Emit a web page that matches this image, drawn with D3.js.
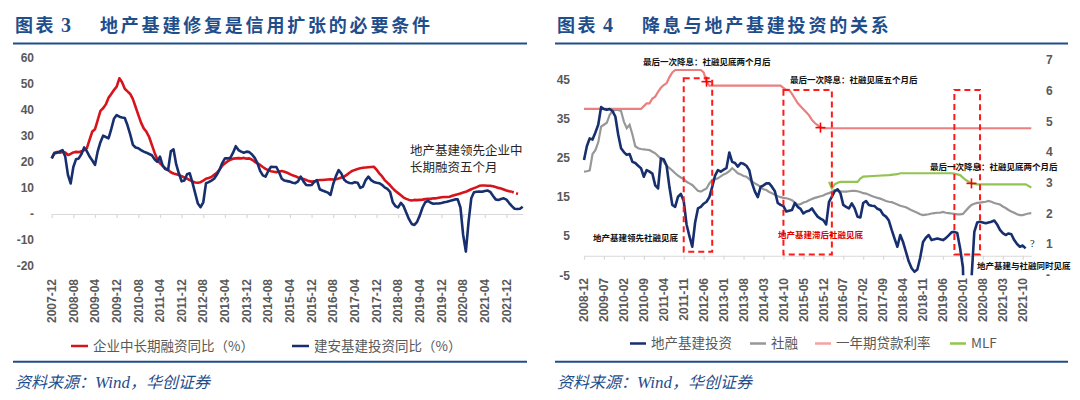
<!DOCTYPE html>
<html>
<head>
<meta charset="utf-8">
<script src="https://cdn.jsdelivr.net/npm/d3@7"></script>
<style>
  body { margin: 0; background: #fff; }
  svg { display: block; font-family: "Noto Sans CJK SC", "Noto Sans", sans-serif; }
</style>
</head>
<body>
<svg id="chart" width="1080" height="400"></svg>
<script>
// ---------- data: chart 3 (monthly, 2007-12 .. 2022-06) ----------
const leftTicks = ["2007-12","2008-08","2009-04","2009-12","2010-08","2011-04","2011-12","2012-08",
  "2013-04","2013-12","2014-08","2015-04","2015-12","2016-08","2017-04","2017-12","2018-08",
  "2019-04","2019-12","2020-08","2021-04","2021-12"];
const leftYTicks = [60, 50, 40, 30, 20, 10, 0, -10, -20];

// 企业中长期融资同比 (%), 2007-12 .. 2022-05, dotted from 2022-02
const corpLoan = [
  21.3,23.5,23.8,23.5,23.8,23.6,22.6,23.0,23.6,23.8,
  23.7,24.0,24.5,25.2,28.5,31.6,32.5,36.0,39.5,40.5,
  42.0,44.5,46.0,47.5,48.8,52.0,50.5,48.0,47.0,46.0,
  44.0,41.0,38.0,35.0,32.8,31.5,29.5,26.5,23.5,21.0,
  19.4,18.5,17.5,16.8,16.0,15.5,15.2,14.9,14.5,14.0,
  13.6,13.0,12.5,12.1,12.0,12.2,12.8,13.5,13.8,14.2,
  15.0,15.8,17.0,18.5,19.4,20.2,20.8,21.2,21.3,21.4,
  21.3,21.5,21.2,21.3,20.8,20.0,19.4,18.8,18.0,17.3,
  16.8,16.4,16.2,16.0,16.3,16.5,16.2,15.8,15.3,14.8,
  14.5,14.0,13.7,13.4,13.0,12.6,12.4,12.5,12.8,13.0,
  13.0,13.1,13.2,13.3,13.2,13.3,13.6,14.0,14.3,15.0,
  15.8,16.5,16.9,17.2,17.5,17.7,17.8,17.9,18.0,18.1,
  17.0,15.6,14.5,13.0,12.0,11.0,9.8,8.8,8.0,7.2,
  6.3,5.8,5.4,5.2,5.4,5.3,5.4,5.5,5.7,5.8,
  5.8,6.0,6.0,6.2,6.4,6.5,6.5,6.6,7.0,7.3,
  7.6,7.9,8.2,8.5,9.0,9.5,9.9,10.3,10.8,10.9,
  10.9,10.8,10.8,10.6,10.3,10.0,9.8,9.4,9.0,8.7,
  8.5,8.1,7.8,7.5
];
const corpLoanDottedFrom = "2022-02";

// 建安基建投资同比 (%), 2007-12 .. 2022-06
const infraInvest = [
  21.3,23.2,23.5,24.0,24.5,22.0,15.0,11.7,18.0,21.0,
  21.3,23.0,25.5,24.0,22.0,20.5,18.8,24.0,27.5,30.0,
  29.5,29.0,32.5,36.5,37.9,37.3,37.0,36.8,34.0,30.5,
  26.5,25.5,25.2,24.5,23.9,23.5,23.0,22.5,21.0,20.0,
  22.0,18.5,17.2,16.9,24.0,24.8,19.0,15.5,12.5,12.8,
  15.2,15.6,12.0,8.0,4.0,2.6,4.5,11.8,12.2,12.8,
  13.5,15.0,17.0,19.5,21.3,21.3,21.5,23.5,26.0,24.5,
  23.9,23.5,23.9,23.7,22.8,21.5,19.5,16.5,14.8,14.3,
  16.5,18.1,18.0,18.0,16.0,13.5,12.8,12.6,12.4,12.0,
  11.8,12.5,14.3,12.5,11.1,11.0,11.1,12.3,13.0,9.5,
  9.0,8.6,8.2,7.3,11.5,14.5,16.8,15.5,13.2,12.3,
  11.9,11.8,12.2,12.0,10.0,10.5,13.0,14.3,13.0,12.3,
  12.0,11.8,11.2,10.2,9.6,8.5,4.5,3.0,2.5,4.3,
  3.0,0.5,-2.0,-3.8,-4.2,-3.0,-0.5,2.5,4.5,5.0,
  4.3,3.9,4.0,4.0,4.2,4.5,4.7,5.0,5.3,5.6,
  5.6,2.5,-8.0,-14.4,-3.0,6.0,8.3,8.5,8.6,8.5,
  8.8,9.0,8.5,7.0,5.6,5.4,5.7,6.0,5.5,4.2,
  3.0,2.0,1.9,2.0,2.8
];

// ---------- data: chart 4 (monthly, 2008-12 .. 2022-01) ----------
const rightTicks = ["2008-12","2009-07","2010-02","2010-09","2011-04","2011-11","2012-06","2013-01",
  "2013-08","2014-03","2014-10","2015-05","2015-12","2016-07","2017-02","2017-09","2018-04",
  "2018-11","2019-06","2020-01","2020-08","2021-03","2021-10"];
const rightLeftTicks = [45, 35, 25, 15, 5, -5];
const rightRightTicks = [7, 6, 5, 4, 3, 2, 1, 0];

// 地产基建投资 (%), 2008-12 .. 2021-11
const propInfra = [
  24.5,28.0,30.0,29.7,31.5,33.5,38.0,37.5,37.3,37.5,
  37.0,35.6,31.0,27.5,26.5,25.8,26.0,24.0,23.7,23.0,
  22.4,20.2,21.9,21.5,21.0,18.0,17.2,24.9,24.6,23.0,
  17.5,13.0,12.5,15.1,15.8,14.0,8.0,5.0,2.3,8.5,
  12.1,12.5,13.3,13.8,15.0,17.6,20.5,21.9,21.5,22.0,
  22.4,26.4,24.0,23.7,22.8,23.7,23.5,23.0,21.9,18.5,
  16.4,15.0,17.6,18.0,18.5,18.5,17.6,16.5,13.5,13.0,
  12.7,11.3,11.5,11.7,13.5,12.5,12.0,10.8,11.3,11.5,
  12.1,11.0,10.0,9.5,9.1,8.0,13.8,15.1,16.5,17.0,
  16.0,13.0,12.5,12.1,13.4,12.1,10.0,9.8,13.5,14.0,
  13.0,12.8,12.7,12.0,11.7,10.5,10.0,9.0,6.6,4.4,
  2.3,5.3,3.5,1.0,-1.5,-3.2,-4.1,-3.5,-0.5,3.5,
  4.6,5.3,4.0,4.2,4.4,4.2,4.0,4.5,5.2,6.0,
  6.1,5.8,2.0,-3.0,-30.0,-25.0,-6.0,6.1,8.5,8.7,
  8.5,8.3,8.5,8.7,9.0,8.0,6.6,5.8,5.3,5.7,
  5.5,4.0,3.0,2.3,2.6,1.9
];

// 社融 (%), 2008-12 .. 2022-01
const socialFin = [
  21.5,21.6,21.8,26.0,27.0,29.0,33.0,33.5,34.0,36.0,
  37.0,37.3,37.3,37.0,34.3,32.6,33.5,31.0,28.0,27.5,
  27.3,27.2,27.1,27.0,26.6,26.2,25.5,24.8,24.0,23.0,
  22.4,21.8,21.1,20.5,20.0,19.6,18.9,18.5,18.1,17.3,
  16.6,16.4,16.8,17.2,18.5,19.4,19.6,19.8,20.3,20.8,
  21.1,21.6,22.4,21.8,21.1,20.8,20.4,20.2,19.6,18.9,
  18.5,18.1,17.6,17.0,16.8,16.3,16.0,15.6,15.2,15.0,
  14.8,14.7,14.5,14.2,13.6,13.0,13.2,13.6,13.8,14.2,
  14.5,14.8,15.0,15.2,15.4,15.8,16.0,16.4,16.8,16.6,
  16.5,16.4,16.4,16.5,16.6,16.6,16.5,16.3,16.0,15.9,
  15.6,15.3,15.0,14.8,14.6,14.3,14.0,13.8,13.7,13.4,
  13.1,12.8,12.6,12.4,12.0,11.6,11.3,11.0,10.6,10.4,
  10.5,10.6,10.8,10.9,11.0,11.0,11.2,11.0,10.9,10.8,
  10.7,10.6,10.6,10.7,11.5,12.3,13.0,13.3,13.5,13.6,
  13.7,13.8,14.0,13.8,13.5,13.3,13.1,12.6,12.2,11.7,
  11.3,11.0,10.6,10.4,10.4,10.6,10.8,10.9
];

// 一年期贷款利率 (%), change points
const loanRate = [
  ["2008-12",5.41],["2010-08",5.41],["2010-09",5.5],["2010-10",5.59],["2010-11",5.59],
  ["2010-12",5.75],["2011-01",5.81],["2011-02",5.97],["2011-03",6.1],["2011-04",6.19],
  ["2011-05",6.25],["2011-06",6.45],["2011-07",6.6],["2011-08",6.68],["2012-05",6.68],
  ["2012-06",6.6],["2012-07",6.3],["2012-08",6.17],["2014-09",6.17],["2014-10",6.1],
  ["2014-11",6.03],["2014-12",6.03],["2015-01",5.9],["2015-02",5.75],["2015-03",5.6],
  ["2015-04",5.5],["2015-05",5.4],["2015-06",5.3],["2015-07",5.2],["2015-08",5.05],
  ["2015-09",4.95],["2015-10",4.88],["2015-11",4.8],["2015-12",4.78],["2022-01",4.78]
];

// MLF (%), change points
const mlfRate = [
  ["2016-02",3.03],["2016-03",2.82],["2016-04",2.95],["2016-05",3.0],["2016-06",3.03],
  ["2016-12",3.03],["2017-01",3.14],["2017-02",3.2],["2017-07",3.23],["2017-11",3.25],
  ["2018-02",3.28],["2018-03",3.31],["2019-09",3.31],["2019-10",3.3],["2019-12",3.25],
  ["2020-02",3.09],["2020-04",2.98],["2020-06",2.95],["2021-11",2.95],["2021-12",2.9],
  ["2022-01",2.84]
];

// dashed boxes: from, to, top (right axis), bottom (left axis)
const boxes = [
  { from: "2011-11", to: "2012-09", top: 6.41, bottom: 1.0 },
  { from: "2014-10", to: "2016-03", top: 6.03, bottom: 0.35 },
  { from: "2019-10", to: "2020-07", top: 6.03, bottom: 0.35 }
];
// last cut markers: month, rate (right axis)
const lastCuts = [["2012-07", 6.3], ["2015-11", 4.8], ["2020-04", 2.98]];

// ---------- helpers ----------
const parse = d3.timeParse("%Y-%m");
const fmt = d3.timeFormat("%Y-%m");
const monthRange = (a, b) =>
  d3.timeMonth.range(parse(a), d3.timeMonth.offset(parse(b), 1)).map(fmt);

const TITLE = "#1F4E8C";
const AXIS_TEXT = "#595959";
const GRID = "#D9D9D9";

const svg = d3.select("#chart");
svg.append("rect").attr("width", 1080).attr("height", 400).attr("fill", "#fff");

function frame(x0, x1, num, title) {
  const t = svg.append("text").attr("x", x0 + 2).attr("y", 32)
    .attr("fill", TITLE).attr("font-size", 18).attr("font-weight", 700);
  t.append("tspan").text("图表").attr("letter-spacing", 2.5);
  t.append("tspan").text(" " + num).attr("font-family", "Liberation Serif, serif")
    .attr("font-size", 20);
  svg.append("text").attr("x", x0 + 87).attr("y", 32).text(title)
    .attr("fill", TITLE).attr("font-size", 18).attr("font-weight", 700)
    .attr("letter-spacing", 2.8);
  svg.append("line").attr("x1", x0).attr("x2", x1).attr("y1", 43.6).attr("y2", 43.6)
    .attr("stroke", TITLE).attr("stroke-width", 2);
  svg.append("line").attr("x1", x0).attr("x2", x1).attr("y1", 361.7).attr("y2", 361.7)
    .attr("stroke", TITLE).attr("stroke-width", 2);
  const s = svg.append("text").attr("x", x0 + 2).attr("y", 388)
    .attr("fill", TITLE).attr("font-size", 16).attr("font-style", "italic");
  s.append("tspan").text("资料来源：");
  s.append("tspan").text("Wind").attr("font-family", "Liberation Serif, serif").attr("font-size", 17);
  s.append("tspan").text("，华创证券");
}

function xAxis(g, x, ticks, yAxis, yLabels) {
  const ax = g.append("g").attr("transform", `translate(0,${yAxis})`)
    .call(d3.axisBottom(x).tickValues(ticks).tickSize(4).tickSizeOuter(0).tickFormat(""));
  ax.selectAll("path, line").attr("stroke", GRID).attr("stroke-width", 1.2);
  g.append("g").selectAll("text").data(ticks).join("text")
    .attr("transform", d => `translate(${x(d)},${yLabels}) rotate(-90)`)
    .attr("dy", "0.35em").attr("text-anchor", "end")
    .attr("font-family", "Liberation Sans, Arial, sans-serif")
    .attr("font-size", 12).attr("font-weight", 700).attr("fill", AXIS_TEXT)
    .text(d => d);
}

function yLabels(g, y, ticks, x, anchor) {
  g.append("g").selectAll("text").data(ticks).join("text")
    .attr("x", x).attr("y", d => y(d)).attr("dy", "0.35em").attr("text-anchor", anchor)
    .attr("font-family", "Liberation Sans, Arial, sans-serif")
    .attr("font-size", 12).attr("font-weight", 700).attr("fill", AXIS_TEXT)
    .text(d => d === 0 ? "-" : d);
}

function legendItem(g, x, y, color, label, w) {
  g.append("line").attr("x1", x).attr("x2", x + w).attr("y1", y).attr("y2", y)
    .attr("stroke", color).attr("stroke-width", 2.5);
  g.append("text").attr("x", x + w + 5).attr("y", y).attr("dy", "0.36em")
    .attr("font-size", 13.5).attr("fill", AXIS_TEXT).text(label);
}

// ---------- chart 3 ----------
frame(13, 527, "3", "地产基建修复是信用扩张的必要条件");

const leftMonths = monthRange("2007-12", "2022-06");
const xL = d3.scalePoint().domain(leftMonths).range([51.7, 522.7]);
const yL = d3.scaleLinear().domain([-20, 60]).range([266.2, 57.4]);
const gL = svg.append("g");

yLabels(gL, yL, leftYTicks, 34, "end");
xAxis(gL, xL, leftTicks, yL(0), 279);

const lineL = d3.line().x(d => xL(d[0])).y(d => yL(d[1]));
const corpPts = corpLoan.map((v, i) => [leftMonths[i], v]);
const cut = leftMonths.indexOf(corpLoanDottedFrom);

gL.append("path").datum(corpPts.slice(0, cut + 1)).attr("d", lineL)
  .attr("fill", "none").attr("stroke", "#D7141C").attr("stroke-width", 2.6)
  .attr("stroke-linejoin", "round");
gL.append("path").datum(corpPts.slice(cut)).attr("d", lineL)
  .attr("fill", "none").attr("stroke", "#D7141C").attr("stroke-width", 2.6)
  .attr("stroke-dasharray", "2,2.5");
gL.append("path").datum(infraInvest.map((v, i) => [leftMonths[i], v])).attr("d", lineL)
  .attr("fill", "none").attr("stroke", "#172F6E").attr("stroke-width", 2.6)
  .attr("stroke-linejoin", "round");

gL.append("text").attr("font-size", 12.5).attr("fill", "#262626")
  .selectAll("tspan").data(["地产基建领先企业中", "长期融资五个月"]).join("tspan")
  .attr("x", 410).attr("y", (d, i) => 154.5 + i * 17.5).text(d => d);

const legL = svg.append("g");
legendItem(legL, 71, 346, "#D7141C", "企业中长期融资同比（%）", 17);
legendItem(legL, 292, 346, "#172F6E", "建安基建投资同比（%）", 17);

// ---------- chart 4 ----------
frame(555, 1068, "4", "降息与地产基建投资的关系");

const rightMonths = monthRange("2008-12", "2022-01");
const xR = d3.scalePoint().domain(rightMonths).range([584, 1031.3]);
const yRL = d3.scaleLinear().domain([-5, 50]).range([275.3, 60.2]);
const yRR = d3.scaleLinear().domain([0, 7]).range([274.7, 60.2]);
const gR = svg.append("g");

svg.append("clipPath").attr("id", "plotR").append("rect")
  .attr("x", 575).attr("y", 50).attr("width", 470).attr("height", yRL(-5) - 50);

yLabels(gR, yRL, rightLeftTicks, 570, "end");
yLabels(gR, yRR, rightRightTicks, 1046, "start");
xAxis(gR, xR, rightTicks, yRL(0), 278);

const plot = gR.append("g").attr("clip-path", "url(#plotR)");
const lineRL = d3.line().x(d => xR(d[0])).y(d => yRL(d[1]));
const lineRR = d3.line().x(d => xR(d[0])).y(d => yRR(d[1]));

plot.append("path").datum(socialFin.map((v, i) => [rightMonths[i], v])).attr("d", lineRL)
  .attr("fill", "none").attr("stroke", "#979797").attr("stroke-width", 2.2);
plot.append("path").datum(loanRate).attr("d", lineRR)
  .attr("fill", "none").attr("stroke", "#EB7F7F").attr("stroke-width", 2.2);
plot.append("path").datum(mlfRate).attr("d", lineRR)
  .attr("fill", "none").attr("stroke", "#92C451").attr("stroke-width", 2.2);
plot.append("path").datum(propInfra.map((v, i) => [rightMonths[i], v])).attr("d", lineRL)
  .attr("fill", "none").attr("stroke", "#172F6E").attr("stroke-width", 2.6)
  .attr("stroke-linejoin", "round");

gR.append("g").selectAll("rect").data(boxes).join("rect")
  .attr("x", d => xR(d.from)).attr("width", d => xR(d.to) - xR(d.from))
  .attr("y", d => yRR(d.top)).attr("height", d => yRL(d.bottom) - yRR(d.top))
  .attr("fill", "none").attr("stroke", "#FF1A1A").attr("stroke-width", 2)
  .attr("stroke-dasharray", "6,4");

const crosses = gR.append("g").attr("stroke", "#FF0000").attr("stroke-width", 1.6);
lastCuts.forEach(([m, r]) => {
  const cx = xR(m), cy = yRR(r);
  crosses.append("line").attr("x1", cx - 5).attr("x2", cx + 5).attr("y1", cy).attr("y2", cy);
  crosses.append("line").attr("x1", cx).attr("x2", cx).attr("y1", cy - 5).attr("y2", cy + 5);
});

const notes = [
  { x: 643, y: 65, text: "最后一次降息：社融见底两个月后", color: "#111" },
  { x: 790, y: 83, text: "最后一次降息：社融见底五个月后", color: "#111" },
  { x: 930, y: 170, text: "最后一次降息：社融见底两个月后", color: "#111" },
  { x: 593, y: 241, text: "地产基建领先社融见底", color: "#111" },
  { x: 778, y: 237.5, text: "地产基建滞后社融见底", color: "#E00000" },
  { x: 977, y: 268.5, text: "地产基建与社融同时见底", color: "#111" }
];
gR.append("g").selectAll("text").data(notes).join("text")
  .attr("x", d => d.x).attr("y", d => d.y).attr("fill", d => d.color)
  .attr("font-size", 8.5).attr("font-weight", 700).text(d => d.text);
gR.append("text").attr("x", 1030).attr("y", 247).attr("font-size", 10.5)
  .attr("font-family", "Liberation Serif, serif").attr("fill", "#222").text("?");

const legR = svg.append("g");
legendItem(legR, 630, 343.5, "#172F6E", "地产基建投资", 16);
legendItem(legR, 750, 343.5, "#979797", "社融", 16);
legendItem(legR, 815, 343.5, "#F2A3A3", "一年期贷款利率", 16);
legendItem(legR, 950, 343.5, "#92C451", "MLF", 16);
</script>
</body>
</html>
